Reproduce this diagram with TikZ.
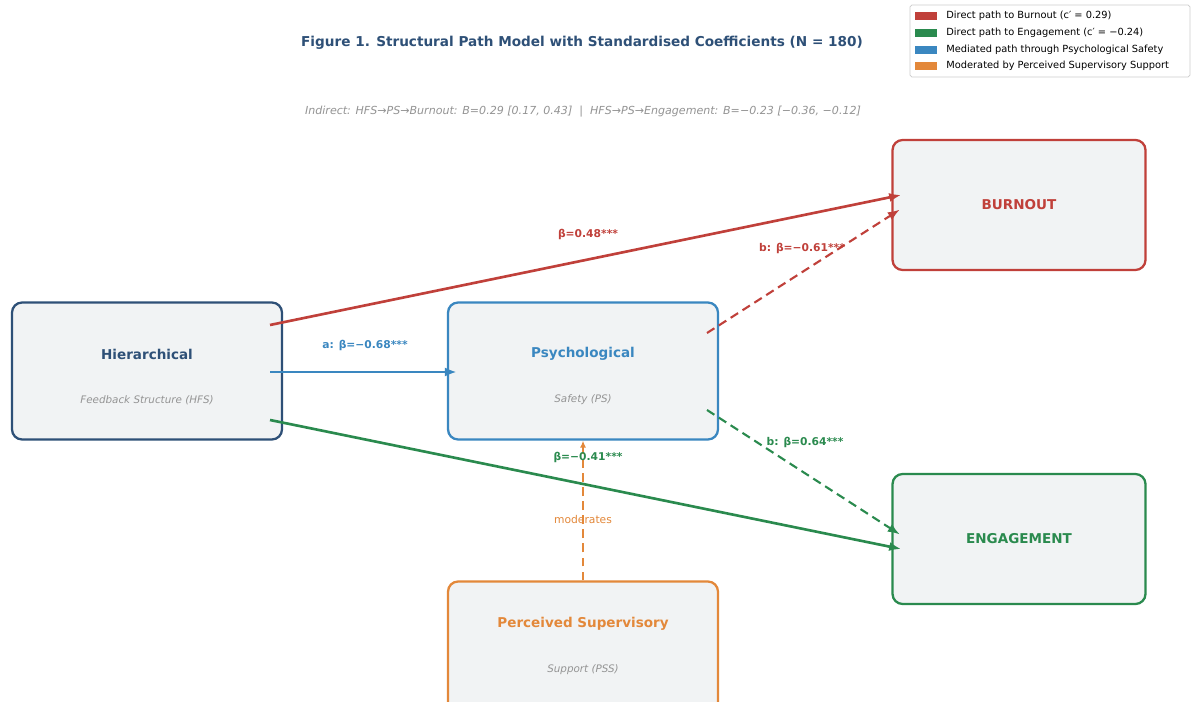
\documentclass[tikz,border=0pt]{standalone}
\usepackage{fontspec}
\setmainfont{DejaVu Sans}
\usepackage{xcolor}
\usepackage{tikz}
\usetikzlibrary{positioning,arrows.meta,calc}
\definecolor{pmNavy}{HTML}{2E5077}
\definecolor{pmBlue}{HTML}{3A87C0}
\definecolor{pmRed}{HTML}{C0403A}
\definecolor{pmGreen}{HTML}{2A8A4E}
\definecolor{pmOrange}{HTML}{E3883A}
\definecolor{pmFill}{HTML}{F1F3F4}
\definecolor{pmGray}{HTML}{949494}
\newcommand{\tinytext}{\fontsize{5.6}{7}\selectfont}
\tikzset{
  varbox/.style={draw=#1,fill=pmFill,rounded corners=0.2cm,line width=1.3pt,
    minimum width=5.4cm,minimum height=2.74cm},
  outbox/.style={draw=#1,fill=pmFill,rounded corners=0.2cm,line width=1.3pt,
    minimum width=5.06cm,minimum height=2.6cm},
  varname/.style={font=\fontsize{7.7}{9}\selectfont\bfseries,text=#1},
  varsub/.style={font=\fontsize{5.9}{7}\selectfont\itshape,text=pmGray},
  path/.style={-{Latex[length=2.4mm,width=1.8mm]},line width=1.5pt,draw=#1,shorten >=-0.2cm},
  dpath/.style={-{Latex[length=2.4mm,width=1.8mm]},line width=1.2pt,draw=#1,
    dash pattern=on 5pt off 3pt,shorten >=-0.2cm},
  coef/.style={font=\fontsize{6.1}{7}\selectfont\bfseries,text=#1},
  keypatch/.style={fill=#1,minimum width=0.44cm,minimum height=0.16cm,inner sep=0pt},
  keytext/.style={font=\tinytext,anchor=west,inner sep=0pt}
}

\begin{document}
\begin{tikzpicture}[x=0.02cm,y=-0.02cm]
  \useasboundingbox[fill=white] (0,0) rectangle (1196,702);

  % headings
  \node[font=\fontsize{7.75}{9}\selectfont\bfseries,text=pmNavy] (title) at (582,43)
    {Figure 1. Structural Path Model with Standardised Coefficients (N = 180)};
  \node[font=\fontsize{6.3}{7}\selectfont\itshape,text=pmGray] (indirect) at (583,112)
    {Indirect: HFS→PS→Burnout: B=0.29 [0.17, 0.43] \ | \ HFS→PS→Engagement: B=−0.23 [−0.36, −0.12]};

  % boxes
  \node[varbox=pmNavy] (hfs) at (147,371) {};
  \node[varbox=pmBlue] (ps) at (583,371) {};
  \node[varbox=pmOrange] (pss) at (583,650) {};
  \node[outbox=pmRed] (burn) at (1019,205) {};
  \node[outbox=pmGreen] (eng) at (1019,539) {};

  \node[varname=pmNavy] (hfsname) at ([yshift=0.34cm]hfs.center) {Hierarchical};
  \node[varsub] (hfssub) at ([yshift=-0.58cm]hfs.center) {Feedback Structure (HFS)};
  \node[varname=pmBlue] (psname) at ([yshift=0.34cm]ps.center) {Psychological};
  \node[varsub] (pssub) at ([yshift=-0.58cm]ps.center) {Safety (PS)};
  \node[varname=pmOrange] (pssname) at (583,624) {Perceived Supervisory};
  \node[varsub] (psssub) at (583,670) {Support (PSS)};
  \node[varname=pmRed] (burnname) at (burn.center) {BURNOUT};
  \node[varname=pmGreen] (engname) at (eng.center) {ENGAGEMENT};

  % connectors
  \coordinate (hfsTop) at (270,325);
  \coordinate (hfsMid) at (270,372);
  \coordinate (hfsLow) at (270,420);
  \coordinate (psTop) at (707,333);
  \coordinate (psLow) at (707,410);
  \draw[path=pmRed] (hfsTop) -- (burn.west |- 0,197);
  \draw[path=pmBlue] (hfsMid) -- (ps.west |- hfsMid);
  \draw[path=pmGreen] (hfsLow) -- (eng.west |- 0,547);
  \draw[dpath=pmRed] (psTop) -- ([yshift=-0.2cm]burn.west);
  \draw[dpath=pmGreen] (psLow) -- ([yshift=0.2cm]eng.west);
  \draw[dpath=pmOrange,line width=1pt,shorten >=0pt,-{Latex[length=1.4mm,width=1.2mm]}] (pss.north) -- (ps.south);

  % coefficients
  \node[coef=pmRed] (c1) at (588,234) {β=0.48***};
  \node[coef=pmBlue] (c2) at (365,345) {a: β=−0.68***};
  \node[coef=pmGreen] (c3) at (588,457) {β=−0.41***};
  \node[coef=pmRed] (c4) at (802,248) {b: β=−0.61***};
  \node[coef=pmGreen] (c5) at (805,442) {b: β=0.64***};
  \node[font=\fontsize{6.1}{7}\selectfont,text=pmOrange] (mod) at (583,520) {moderates};

  % legend
  \node[draw=black!20,fill=white,rounded corners=1pt,minimum width=5.6cm,minimum height=1.44cm,
    inner sep=0pt] (key) at (1050,41) {};
  \foreach \y/\col/\txt in {16/pmRed/{Direct path to Burnout (c′ = 0.29)},
      33/pmGreen/{Direct path to Engagement (c′ = −0.24)},
      50/pmBlue/{Mediated path through Psychological Safety},
      66/pmOrange/{Moderated by Perceived Supervisory Support}} {
    \node[keypatch=\col] (kp\y) at (926,\y) {};
    \node[keytext] (kt\y) at (946,\y) {\txt};
  }
\end{tikzpicture}
\end{document}
